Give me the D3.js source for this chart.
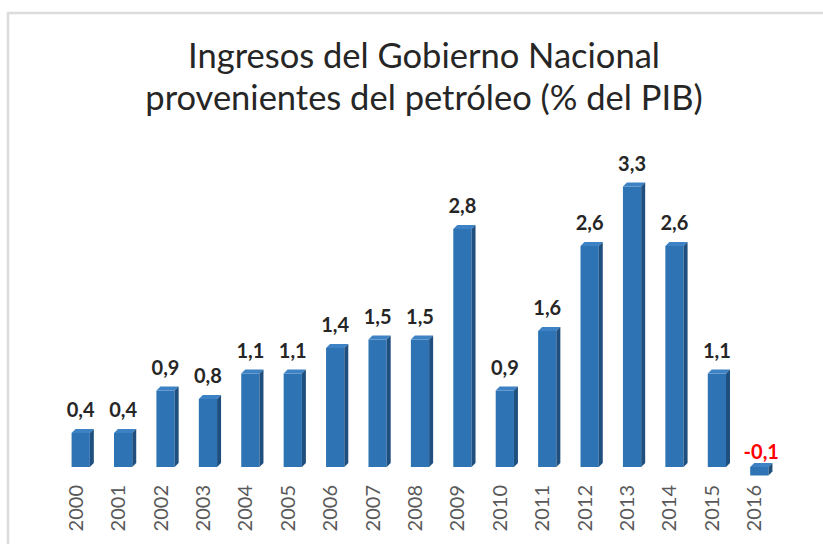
<!DOCTYPE html>
<html>
<head>
<meta charset="utf-8">
<script src="https://cdn.jsdelivr.net/npm/d3@7"></script>
<style>
	body { margin: 0; background: #fff; }
	text { font-family: Lato, "Open Sans", sans-serif; }
</style>
</head>
<body>
<div id="chart"></div>
<script>
// datos
let years = ["2000", "2001", "2002", "2003", "2004", "2005", "2006", "2007", "2008",
	"2009", "2010", "2011", "2012", "2013", "2014", "2015", "2016"];
let values = [0.4, 0.4, 0.9, 0.8, 1.1, 1.1, 1.4, 1.5, 1.5, 2.8, 0.9, 1.6, 2.6, 3.3, 2.6, 1.1, -0.1];
let titleLines = ["Ingresos del Gobierno Nacional", "provenientes del petróleo (% del PIB)"];

let W = 823, H = 544, depth = 4;

let svg = d3.select("#chart").append("svg")
	.attr("width", W)
	.attr("height", H);

svg.append("rect")
	.attr("x", 8).attr("y", 13)
	.attr("width", 900).attr("height", 700)
	.attr("fill", "#fff")
	.attr("stroke", "#dcdcdc")
	.attr("stroke-width", 2.5);

svg.selectAll("text.title")
	.data(titleLines)
	.enter().append("text")
	.attr("class", "title")
	.attr("x", 424)
	.attr("y", (d, i) => 68 + i * 42)
	.attr("text-anchor", "middle")
	.attr("font-size", 34.5)
	.attr("fill", "#262626")
	.text(d => d);

let x = d3.scaleBand()
	.domain(years)
	.range([59.5, 780.5])
	.paddingInner(0.57)
	.paddingOuter(0.285);
let y = d3.scaleLinear().domain([0, 3.3]).range([467, 186.5]);

let data = years.map((yr, i) => ({year: yr, value: values[i]}));
let bw = x.bandwidth();

let bar = svg.append("g").selectAll("g")
	.data(data)
	.enter().append("g");

/* cara frontal, superior y lateral */
bar.append("rect")
	.attr("x", d => x(d.year))
	.attr("y", d => Math.min(y(d.value), y(0)))
	.attr("width", bw)
	.attr("height", d => Math.abs(y(d.value) - y(0)))
	.attr("fill", "#2e74b5");
bar.append("path")
	.attr("d", d => {
		let x0 = x(d.year), t = Math.min(y(d.value), y(0));
		return `M${x0},${t}L${x0 + depth},${t - depth}L${x0 + bw + depth},${t - depth}L${x0 + bw},${t}Z`;
	})
	.attr("fill", "#3c82c4");
bar.append("path")
	.attr("d", d => {
		let x1 = x(d.year) + bw, t = Math.min(y(d.value), y(0)), b = Math.max(y(d.value), y(0));
		return `M${x1},${t}L${x1 + depth},${t - depth}L${x1 + depth},${b - depth}L${x1},${b}Z`;
	})
	.attr("fill", "#1f4f7e");

bar.append("text")
	.attr("x", d => x(d.year) + bw / 2 + (d.value < 0 ? 2 : 0))
	.attr("y", d => d.value < 0 ? y(0) - 8 : y(d.value) - 16)
	.attr("text-anchor", "middle")
	.attr("font-size", 20)
	.attr("font-weight", "bold")
	.attr("fill", d => d.value < 0 ? "#ff0000" : "#262626")
	.text(d => d3.format(".1f")(d.value).replace(".", ",").replace("−", "-"));

svg.append("g").selectAll("text")
	.data(years)
	.enter().append("text")
	.attr("transform", d => `translate(${x(d) + bw / 2 - 5},485) rotate(-90)`)
	.attr("dy", "0.35em")
	.attr("text-anchor", "end")
	.attr("font-size", 20)
	.attr("fill", "#595959")
	.text(d => d);
</script>
</body>
</html>
